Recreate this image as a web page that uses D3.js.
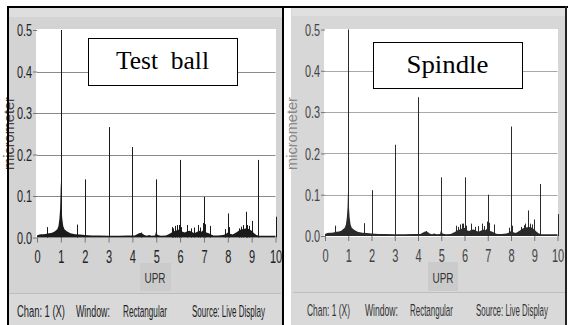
<!DOCTYPE html>
<html><head><meta charset="utf-8">
<script src="https://cdn.jsdelivr.net/npm/d3@7"></script>
<style>body{margin:0;background:#fff;} svg{display:block;}</style>
</head><body><svg id="c" width="568" height="325"></svg>
<script>
// ---------------- data ----------------
const xTicks = [0,1,2,3,4,5,6,7,8,9,10];
const yTicks = [0.0,0.1,0.2,0.3,0.4,0.5];
const panelTitles = ["Test  ball", "Spindle"];
const statusTexts = ["Chan: 1 (X)", "Window:", "Rectangular", "Source: Live Display"];
const xLabel = "UPR";
const yLabel = "micrometer";

// shared broadband floor of the spectrum (UPR, micrometer)
const floorUPR = [0,0.1,0.2,0.3,0.4,0.5,0.6,0.7,0.75,0.85,0.9,0.94,0.97,0.99,1.0,1.01,1.03,1.06,1.1,1.15,1.25,1.4,1.6,1.8,2.0,2.3,2.6,3.0,3.4,3.8,4.1,4.2,4.3,4.4,4.5,4.6,4.7,4.8,4.95,5.0,5.05,5.2,5.4,5.5,5.6,5.7,5.8,5.9,6.0,6.1,6.2,6.3,6.4,6.5,6.6,6.7,6.8,6.9,7.0,7.1,7.2,7.3,7.4,7.6,7.8,7.9,8.0,8.1,8.2,8.3,8.4,8.5,8.6,8.7,8.8,8.9,9.0,9.1,9.2,9.3,9.6,10];
const floorAmp = [0.005,0.007,0.008,0.008,0.009,0.01,0.011,0.013,0.015,0.02,0.028,0.045,0.07,0.11,0.135,0.11,0.07,0.045,0.028,0.02,0.015,0.01,0.008,0.007,0.006,0.005,0.005,0.004,0.004,0.005,0.005,0.008,0.011,0.01,0.006,0.004,0.006,0.004,0.005,0.016,0.006,0.004,0.005,0.007,0.01,0.014,0.016,0.018,0.02,0.014,0.012,0.015,0.016,0.013,0.01,0.013,0.016,0.014,0.02,0.012,0.01,0.007,0.005,0.005,0.006,0.008,0.012,0.009,0.007,0.01,0.014,0.018,0.02,0.021,0.022,0.02,0.016,0.01,0.006,0.004,0.004,0.004];

// shared small spectral lines
const minorUPR = [0.43,1.68,4.35,5.0,5.65,5.72,5.8,5.88,5.95,6.05,6.3,6.45,6.6,6.75,6.85,6.95,7.05,7.25,7.9,8.05,8.45,8.55,8.62,8.75,8.82,8.9,9.0];
const minorAmp = [0.025,0.031,0.012,0.02,0.025,0.022,0.028,0.03,0.03,0.025,0.03,0.022,0.024,0.03,0.024,0.035,0.032,0.028,0.02,0.025,0.022,0.026,0.03,0.062,0.03,0.028,0.04];

// harmonic lines per measurement
const testBallUPR = [0.99,1.0,1.01,2,3,4,5,6,7,8,9.26,10];
const testBallAmp = [0.26,0.5,0.26,0.14,0.266,0.218,0.14,0.187,0.098,0.058,0.187,0.05];
const spindleUPR  = [0.99,1.0,1.01,2,3,4,5,6,7,8,9.25,10];
const spindleAmp  = [0.26,0.5,0.26,0.111,0.221,0.336,0.142,0.142,0.1,0.265,0.126,0.053];

// ---------------- layout ----------------
const panels = [
  { title: panelTitles[0], lineX: testBallUPR, lineY: testBallAmp,
    bg: [7, 6, 276, 319], band: [9, 8, 273, 9],
    white: [36, 29, 240, 209], xr: [37, 275.5], yr: [237.5, 30],
    box: [88, 38, 149, 47], titleLen: 93, titleBase: 69,
    sep: 293, statusX: [17, 76, 123, 192], statusW: [48, 34, 44, 73], statusY: 317,
    uprBox: [140, 263, 31, 28], uprX: 155,
    ylabX: 14, ink: "#1a1a1a", text: "#222", grid: "#8a8a8a", ytitle: "#444", bgc: "#d3d3d3", bandc: "#dedede", stat: "#222" },
  { title: panelTitles[1], lineX: spindleUPR, lineY: spindleAmp,
    bg: [291, 6, 276, 319], band: [292, 8, 273, 8],
    white: [324, 29, 234, 208], xr: [325, 557.5], yr: [236, 29.5],
    box: [373, 42, 149, 46], titleLen: 82, titleBase: 73,
    sep: 292, statusX: [307, 365, 410, 476], statusW: [43, 33, 43, 72], statusY: 316,
    uprBox: [428, 262, 30, 29], uprX: 443,
    ylabX: 297, ink: "#2a2a2a", text: "#444", grid: "#a8a8a8", ytitle: "#888", bgc: "#d7d7d7", bandc: "#e0e0e0", stat: "#333" }
];

const svg = d3.select("#c");
svg.append("rect").attr("width", 568).attr("height", 325).attr("fill", "#fff");

const sansFont = "'Liberation Sans', Arial, sans-serif";

// squeeze a text horizontally to a target width using a transform
function squeeze(sel, x, y, w) {
  const len = sel.node().getComputedTextLength();
  sel.attr("transform", `translate(${x},${y}) scale(${w / len},1)`);
}

panels.forEach((p) => {
  const g = svg.append("g");
  // panel background
  g.append("rect").attr("x", p.bg[0]).attr("y", p.bg[1]).attr("width", p.bg[2]).attr("height", p.bg[3]).attr("fill", p.bgc);
  g.append("rect").attr("x", p.band[0]).attr("y", p.band[1]).attr("width", p.band[2]).attr("height", p.band[3]).attr("fill", p.bandc);
  // status bar
  g.append("rect").attr("x", p.bg[0] + 2).attr("y", p.sep).attr("width", p.bg[2] - 4).attr("height", 325 - p.sep).attr("fill", "#d9d9d9");
  g.append("line").attr("x1", p.bg[0] + 2).attr("x2", p.bg[0] + p.bg[2] - 2).attr("y1", p.sep + 0.5).attr("y2", p.sep + 0.5).attr("stroke", "#bdbdbd");
  // UPR box
  g.append("rect").attr("x", p.uprBox[0]).attr("y", p.uprBox[1]).attr("width", p.uprBox[2]).attr("height", p.uprBox[3]).attr("fill", "#cbcbcb");
  // plot area
  g.append("rect").attr("x", p.white[0]).attr("y", p.white[1]).attr("width", p.white[2]).attr("height", p.white[3]).attr("fill", "#fff");

  const x = d3.scaleLinear().domain([0, 10]).range(p.xr);
  const y = d3.scaleLinear().domain([0, 0.5]).range(p.yr);

  // grid
  g.append("g").selectAll("line").data(yTicks.filter(v => v > 0 && v < 0.5)).join("line")
    .attr("x1", p.xr[0]).attr("x2", p.xr[1])
    .attr("y1", d => Math.round(y(d)) + 0.5).attr("y2", d => Math.round(y(d)) + 0.5)
    .attr("stroke", p.grid).attr("stroke-width", 1);

  // floor area
  const area = d3.area().x(d => x(d[0])).y0(y(0)).y1(d => y(d[1])).curve(d3.curveLinear);
  g.append("path").datum(d3.zip(floorUPR, floorAmp)).attr("d", area).attr("fill", p.ink);

  // minor lines + harmonics
  const lines = d3.zip(minorUPR, minorAmp).concat(d3.zip(p.lineX, p.lineY));
  g.append("g").selectAll("line").data(lines).join("line")
    .attr("x1", d => Math.round(x(d[0])) + 0.5).attr("x2", d => Math.round(x(d[0])) + 0.5)
    .attr("y1", y(0)).attr("y2", d => y(d[1]))
    .attr("stroke", p.ink).attr("stroke-width", 1);

  // x axis
  const xa = g.append("g").attr("transform", `translate(0,${p.yr[0]})`)
    .call(d3.axisBottom(x).tickValues(xTicks).tickFormat(d3.format("d")).tickSize(5).tickPadding(0));
  xa.select(".domain").remove();
  xa.selectAll(".tick line").attr("stroke", "#777");
  xa.selectAll(".tick text").attr("y", 26).attr("dy", 0)
    .attr("font-family", sansFont).attr("font-size", 19).attr("fill", p.text)
    .attr("transform", "scale(0.58,1)");

  // y axis
  const ya = g.append("g").attr("transform", `translate(${p.xr[0]},0)`)
    .call(d3.axisLeft(y).tickValues(yTicks).tickFormat(d3.format(".1f")).tickSize(4).tickPadding(1));
  ya.select(".domain").remove();
  ya.selectAll(".tick line").attr("stroke", "#777");
  ya.selectAll(".tick text").attr("x", -5 / 0.68).attr("dy", "0.36em")
    .attr("font-family", sansFont).attr("font-size", 16).attr("fill", p.text)
    .attr("transform", "scale(0.68,1)");

  // y title
  const yt = g.append("text")
    .attr("text-anchor", "middle").attr("font-family", sansFont).attr("font-size", 14)
    .attr("fill", p.ytitle).text(yLabel);
  const ytl = yt.node().getComputedTextLength();
  yt.attr("transform", `translate(${p.ylabX},133.5) rotate(-90) scale(${73 / ytl},1)`);

  // x title
  const xt = g.append("text").attr("text-anchor", "middle")
    .attr("font-family", sansFont).attr("font-size", 15).attr("fill", "#333").text(xLabel);
  const xtl = xt.node().getComputedTextLength();
  xt.attr("transform", `translate(${p.uprX},282.5) scale(${21 / xtl},1)`);

  // status texts
  statusTexts.forEach((t, k) => {
    const st = g.append("text").attr("font-family", sansFont).attr("font-size", 16.5).attr("fill", p.stat).text(t);
    squeeze(st, p.statusX[k], p.statusY, p.statusW[k]);
  });

  // title box
  g.append("rect").attr("x", p.box[0] + 0.5).attr("y", p.box[1] + 0.5).attr("width", p.box[2]).attr("height", p.box[3])
    .attr("fill", "#fff").attr("stroke", "#000").attr("stroke-width", 1);
  const tt = g.append("text").attr("text-anchor", "middle")
    .attr("font-family", "'Liberation Serif', 'DejaVu Serif', serif").attr("font-size", 25).attr("fill", "#000")
    .style("white-space", "pre").text(p.title);
  const ttl = tt.node().getComputedTextLength();
  tt.attr("transform", `translate(${p.box[0] + p.box[2] / 2},${p.titleBase}) scale(${p.titleLen / ttl},1)`);
});

// black frame lines
svg.append("line").attr("x1", 7).attr("x2", 568).attr("y1", 7).attr("y2", 7).attr("stroke", "#000").attr("stroke-width", 2);
svg.append("line").attr("x1", 8).attr("x2", 8).attr("y1", 6).attr("y2", 325).attr("stroke", "#000").attr("stroke-width", 2);
svg.append("line").attr("x1", 283).attr("x2", 283).attr("y1", 6).attr("y2", 325).attr("stroke", "#000").attr("stroke-width", 2);
svg.append("line").attr("x1", 566).attr("x2", 566).attr("y1", 6).attr("y2", 325).attr("stroke", "#222").attr("stroke-width", 2);
</script></body></html>
